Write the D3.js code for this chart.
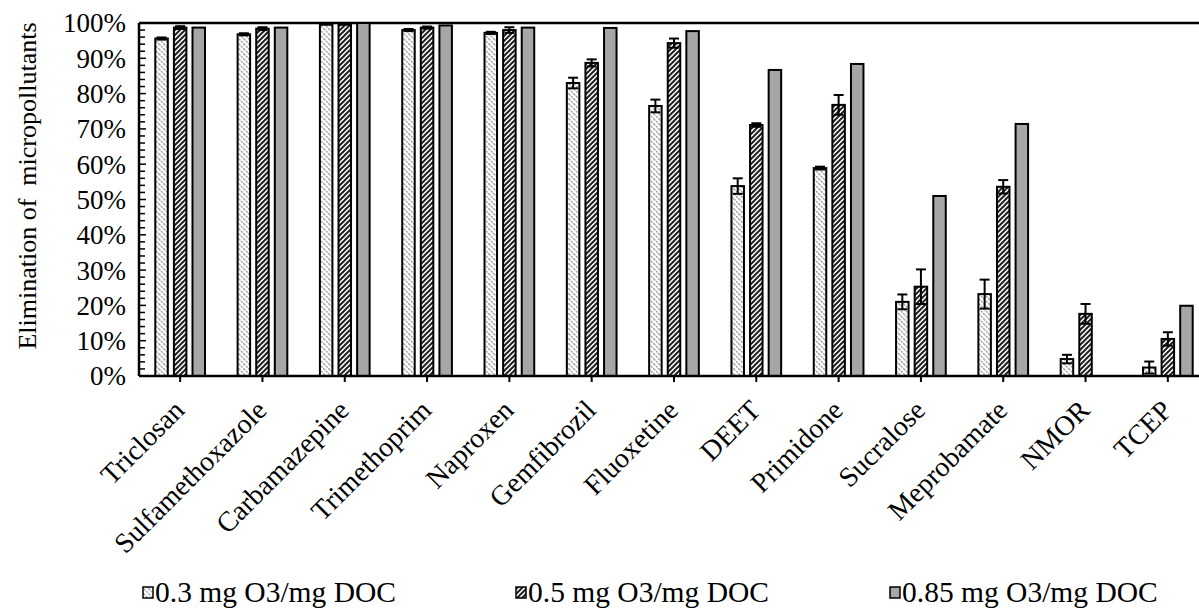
<!DOCTYPE html>
<html><head><meta charset="utf-8">
<script src="https://cdn.jsdelivr.net/npm/d3@7"></script>
<style>body{margin:0;background:#fff}svg{display:block}text{font-family:"Liberation Serif","Times New Roman",serif;fill:#000}</style>
</head><body>
<svg id="c" width="1199" height="610"></svg>
<script>
const categories = ["Triclosan","Sulfamethoxazole","Carbamazepine","Trimethoprim","Naproxen","Gemfibrozil","Fluoxetine","DEET","Primidone","Sucralose","Meprobamate","NMOR","TCEP"];
const seriesNames = ["0.3 mg O3/mg DOC","0.5 mg O3/mg DOC","0.85 mg O3/mg DOC"];
const dose03 = [95.6,96.8,99.5,98.0,97.2,83.0,76.5,53.8,58.9,21.0,23.2,4.8,2.4];
const dose05 = [98.7,98.4,99.5,98.7,98.0,88.7,94.3,71.1,76.8,25.3,53.6,17.6,10.5];
const dose085 = [98.7,98.7,100,99.3,98.7,98.6,97.7,86.7,88.4,51.0,71.4,0,19.9];
const err03 = [0.3,0.3,0,0.3,0.3,1.5,1.8,2.2,0.4,2.1,4.1,1.2,1.7];
const err05 = [0.4,0.4,0,0.3,0.8,1.0,1.3,0.5,2.8,4.9,1.9,2.8,1.9];
const err085 = [0,0,0,0,0,0,0,0,0,0,0,0,0];
const yTicks = [0,10,20,30,40,50,60,70,80,90,100];

const values = [dose03, dose05, dose085];
const errors = [err03, err05, err085];
const svg = d3.select("#c");
const x = d3.scaleBand().domain(categories).range([139,1209]).paddingInner(0).paddingOuter(0);
const y = d3.scaleLinear().domain([0,100]).range([376,23]);

const defs = svg.append("defs");
const p1 = defs.append("pattern").attr("id","p1").attr("patternUnits","userSpaceOnUse").attr("width",5).attr("height",5);
p1.append("rect").attr("width",5).attr("height",5).attr("fill","#fff");
p1.append("path").attr("d","M-1,-1 L6,6 M-1,4 L1,6 M4,-1 L6,1").attr("stroke","#9a9a9a").attr("stroke-width",1.4).attr("stroke-dasharray","2,1");
const p2 = defs.append("pattern").attr("id","p2").attr("patternUnits","userSpaceOnUse").attr("width",5).attr("height",5);
p2.append("rect").attr("width",5).attr("height",5).attr("fill","#fff");
p2.append("path").attr("d","M-1,6 L6,-1 M-1,1 L1,-1 M4,6 L6,4").attr("stroke","#222").attr("stroke-width",2);
const fills = ["url(#p1)","url(#p2)","#a6a6a6"];

svg.append("line").attr("x1",139).attr("x2",1209).attr("y1",y(100)).attr("y2",y(100)).attr("stroke","#000").attr("stroke-width",2.5);

const off = [-18.6,0,18.6];
const bw = 12.5;
values.forEach((vals,s)=>{
  const g = svg.append("g");
  g.selectAll("rect").data(categories).join("rect")
    .attr("x",d=>x(d)+x.bandwidth()/2+off[s]-bw/2)
    .attr("y",(d,i)=>y(vals[i]))
    .attr("width",bw)
    .attr("height",(d,i)=>y(0)-y(vals[i]))
    .attr("fill",fills[s]).attr("stroke","#000").attr("stroke-width",2);
});
values.forEach((vals,s)=>{
  const g = svg.append("g").attr("stroke","#000").attr("stroke-width",2);
  categories.forEach((c,i)=>{
    const e = errors[s][i]; if(!e) return;
    const cx = x(c)+x.bandwidth()/2+off[s];
    g.append("line").attr("x1",cx).attr("x2",cx).attr("y1",y(vals[i]-e)).attr("y2",y(vals[i]+e));
    g.append("line").attr("x1",cx-5).attr("x2",cx+5).attr("y1",y(vals[i]+e)).attr("y2",y(vals[i]+e));
    g.append("line").attr("x1",cx-5).attr("x2",cx+5).attr("y1",y(vals[i]-e)).attr("y2",y(vals[i]-e));
  });
});

const ya = svg.append("g").attr("transform","translate(139,0)");
ya.append("line").attr("x1",0).attr("x2",0).attr("y1",y(0)).attr("y2",y(100)).attr("stroke","#000").attr("stroke-width",2.5);
d3.range(0,101,2).forEach(v=>{
  ya.append("line").attr("x1",0).attr("x2",v%10===0?7:6).attr("y1",y(v)).attr("y2",y(v)).attr("stroke","#000").attr("stroke-width",1.5);
});
ya.selectAll("text.t").data(yTicks).join("text").attr("class","t")
  .attr("x",-13).attr("y",d=>y(d)).attr("dy","0.35em").attr("text-anchor","end").attr("font-size",27)
  .text(d=>d+"%");

const xa = svg.append("g");
xa.append("line").attr("x1",139).attr("x2",1209).attr("y1",y(0)).attr("y2",y(0)).attr("stroke","#000").attr("stroke-width",2.5);
categories.forEach(c=>{
  const cx = x(c)+x.bandwidth()/2;
  xa.append("line").attr("x1",cx).attr("x2",cx).attr("y1",y(0)).attr("y2",y(0)+6).attr("stroke","#000").attr("stroke-width",2);
  xa.append("text").attr("transform",`translate(${cx-8},${y(0)+22}) rotate(-45)`)
    .attr("text-anchor","end").attr("font-size",28).attr("dy","0.7em").text(c);
});

svg.append("text").attr("transform","translate(36,186) rotate(-90)").attr("text-anchor","middle").attr("font-size",26)
  .attr("xml:space","preserve").style("white-space","pre").text("Elimination of  micropollutants");

const lx = [143,516,890];
seriesNames.forEach((n,s)=>{
  svg.append("rect").attr("x",lx[s]).attr("y",587).attr("width",10).attr("height",11).attr("fill",fills[s]).attr("stroke","#000").attr("stroke-width",1.5);
  svg.append("text").attr("x",lx[s]+12).attr("y",602).attr("font-size",29.5).text(n);
});
</script>
</body></html>
